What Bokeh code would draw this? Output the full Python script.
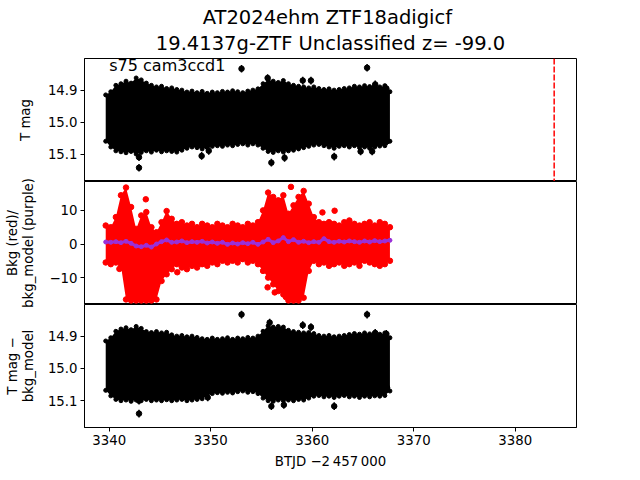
import math
from bokeh.plotting import figure
from bokeh.layouts import column, row
from bokeh.models import (Range1d, FixedTicker, PrintfTickFormatter, CustomJSTickFormatter,
                          Title, Label, Span)
from bokeh.core.properties import value
from bokeh.embed import file_html
from bokeh.resources import INLINE

TITLE_1 = "AT2024ehm  ZTF18adigicf"
TITLE_2 = "19.4137g-ZTF Unclassified z= -99.0"
SECTOR_TEXT = "s75 cam3ccd1"
X_LABEL = "BTJD \u22122\u2009457\u2009000"
Y_LABEL_LINES = [["T mag"], ["Bkg (red)/", "bkg_model (purple)"], ["T mag \u2212", "bkg_model"]]
X_TICKS = [3340, 3350, 3360, 3370, 3380]
MAG_TICKS = [14.9, 15.0, 15.1]
BKG_TICKS = [-10, 0, 10]
EVENT_TIME = 3383.83
MAG_ERR = 0.012

# time nodes along the light curve (BTJD - 2457000)
T_NODES = [3339.65, 3340.15, 3340.65, 3341.15, 3341.65, 3342.15, 3342.65, 3343.15, 3343.65, 3344.15,
           3344.65, 3345.15, 3345.65, 3346.15, 3346.65, 3347.15, 3347.65, 3348.15, 3348.65, 3349.15,
           3349.65, 3350.15, 3350.65, 3351.15, 3351.65, 3352.15, 3352.65, 3353.15, 3353.65, 3354.15,
           3354.65, 3355.15, 3355.65, 3356.15, 3356.65, 3357.15, 3357.65, 3358.15, 3358.65, 3359.15,
           3359.65, 3360.15, 3360.65, 3361.15, 3361.65, 3362.15, 3362.65, 3363.15, 3363.65, 3364.15,
           3364.65, 3365.15, 3365.65, 3366.15, 3366.65, 3367.15, 3367.65]

# panel 1: T mag, upper / lower extent of the points+errorbars
TMAG_UP = [14.915, 14.905, 14.885, 14.880, 14.872, 14.878, 14.862, 14.868, 14.878, 14.885,
           14.890, 14.888, 14.895, 14.893, 14.898, 14.900, 14.906, 14.903, 14.908, 14.904,
           14.910, 14.906, 14.908, 14.904, 14.906, 14.902, 14.905, 14.908, 14.903, 14.900,
           14.896, 14.880, 14.868, 14.872, 14.876, 14.870, 14.880, 14.885, 14.888, 14.890,
           14.893, 14.890, 14.895, 14.898, 14.896, 14.900, 14.898, 14.895, 14.893, 14.888,
           14.890, 14.886, 14.889, 14.885, 14.890, 14.886, 14.905]
TMAG_LO = [15.060, 15.078, 15.090, 15.093, 15.096, 15.092, 15.100, 15.095, 15.090, 15.094,
           15.088, 15.093, 15.090, 15.092, 15.094, 15.088, 15.082, 15.078, 15.080, 15.084,
           15.080, 15.076, 15.074, 15.076, 15.072, 15.074, 15.070, 15.068, 15.072, 15.068,
           15.072, 15.082, 15.092, 15.095, 15.090, 15.094, 15.090, 15.088, 15.084, 15.080,
           15.076, 15.072, 15.070, 15.074, 15.078, 15.082, 15.076, 15.074, 15.078, 15.074,
           15.080, 15.078, 15.082, 15.078, 15.075, 15.074, 15.060]
TMAG_OUT_T = [3353.03, 3365.40, 3355.60, 3359.06, 3359.87, 3366.20, 3367.30, 3342.93, 3342.93,
              3349.10, 3349.80, 3355.97, 3357.27, 3362.16, 3364.76, 3365.90, 3367.37]
TMAG_OUT_M = [14.833, 14.830, 14.862, 14.870, 14.870, 14.882, 14.895, 15.143, 15.110,
              15.106, 15.090, 15.127, 15.112, 15.108, 15.092, 15.092, 15.060]

# panel 2: background flux (red) and background model (purple)
BKG_UP = [5.5, 5.0, 8.0, 14.5, 16.8, 11.0, 4.5, 8.5, 9.5, 5.0,
          3.5, 6.5, 9.8, 7.5, 6.0, 6.5, 5.5, 6.0, 5.0, 6.0,
          5.5, 5.0, 6.0, 5.5, 5.0, 6.0, 5.5, 5.0, 6.0, 5.5,
          6.5, 10.0, 15.3, 14.0, 13.0, 14.5, 9.0, 11.5, 14.0, 15.8,
          12.0, 8.0, 6.5, 6.0, 6.5, 6.0, 5.5, 6.5, 7.0, 6.0,
          5.5, 6.0, 6.5, 5.5, 6.5, 6.0, 5.0]
BKG_LO = [-5.5, -6.0, -5.5, -6.5, -16.5, -16.8, -16.8, -16.8, -16.8, -16.8,
          -16.5, -11.0, -9.0, -7.5, -6.0, -7.0, -7.5, -6.5, -7.0, -6.0,
          -6.5, -5.5, -6.0, -5.0, -5.5, -5.0, -5.5, -4.5, -5.5, -5.0,
          -6.0, -8.0, -10.0, -12.0, -14.0, -15.0, -16.8, -16.8, -16.8, -16.0,
          -8.0, -5.0, -6.0, -5.5, -6.5, -6.0, -5.5, -6.5, -6.0, -5.5,
          -6.5, -5.0, -5.5, -6.0, -6.5, -6.0, -5.0]
BKG_MODEL = [0.6, 0.5, 0.7, 0.4, 0.8, 0.2, -0.6, -0.8, -0.4, -0.9,
             0.0, 0.7, 1.2, 0.5, 0.6, 0.9, 0.4, 0.7, 0.5, 0.8,
             0.3, 0.6, 0.2, 0.5, -0.1, 0.3, 0.0, 0.4, 0.1, 0.5,
             -0.1, 0.6, 1.4, 0.4, 0.9, 1.9, 0.7, 1.3, 0.5, 0.8,
             0.4, 0.7, 0.5, 1.6, 0.7, 0.5, 0.8, 0.6, 0.9, 0.7,
             0.5, 0.9, 0.6, 1.0, 0.7, 0.9, 1.1]
BKG_OUT_T = [3343.6, 3341.0, 3346.7, 3357.9, 3355.6, 3356.3, 3356.5, 3357.4, 3361.0, 3362.2]
BKG_OUT_V = [13.3, -7.4, -8.4, 17.0, -12.9, -14.4, -11.9, -15.8, 9.4, 9.9]

# panel 3: T mag - bkg_model
DIFF_UP = [14.915, 14.905, 14.885, 14.878, 14.874, 14.880, 14.870, 14.876, 14.886, 14.889,
           14.886, 14.890, 14.888, 14.896, 14.900, 14.898, 14.902, 14.900, 14.904, 14.908,
           14.910, 14.906, 14.910, 14.908, 14.905, 14.910, 14.906, 14.908, 14.904, 14.906,
           14.900, 14.885, 14.868, 14.872, 14.870, 14.872, 14.882, 14.886, 14.888, 14.890,
           14.889, 14.892, 14.898, 14.900, 14.898, 14.902, 14.900, 14.898, 14.895, 14.892,
           14.894, 14.890, 14.893, 14.890, 14.894, 14.890, 14.905]
DIFF_LO = [15.068, 15.085, 15.096, 15.100, 15.098, 15.102, 15.098, 15.100, 15.096, 15.100,
           15.098, 15.100, 15.097, 15.100, 15.098, 15.096, 15.100, 15.098, 15.096, 15.094,
           15.085, 15.078, 15.075, 15.077, 15.074, 15.076, 15.072, 15.070, 15.074, 15.072,
           15.078, 15.092, 15.100, 15.102, 15.098, 15.100, 15.098, 15.100, 15.096, 15.098,
           15.092, 15.086, 15.084, 15.088, 15.086, 15.090, 15.086, 15.084, 15.088, 15.086,
           15.090, 15.086, 15.088, 15.085, 15.086, 15.084, 15.070]
DIFF_OUT_T = [3353.03, 3365.40, 3355.80, 3359.06, 3359.87, 3366.20, 3367.30, 3342.93, 3342.93,
              3349.70, 3355.97, 3357.20, 3362.16, 3367.37]
DIFF_OUT_M = [14.833, 14.833, 14.858, 14.866, 14.872, 14.890, 14.893, 15.140, 15.100,
              15.090, 15.117, 15.113, 15.117, 15.060]

FONT = "DejaVu Sans"
TICK_PX = "13.3px"

# layout (pixels)
LAB_W = 44          # column holding the y-axis titles
LEFT = 36           # tick-label border of each panel
RIGHT = 48
FRAME_W = 496
FRAME_H = 123
TOP = 58
BOTTOM = 45
TOTAL_H = TOP + 3 * FRAME_H + BOTTOM

x_range = Range1d(3337.56, 3386.03)


def make_fig(y_range, with_x_axis, top_border, bottom_border):
    p = figure(width=LEFT + FRAME_W + RIGHT, height=top_border + FRAME_H + bottom_border,
               x_range=x_range, y_range=y_range,
               toolbar_location=None, output_backend="svg",
               x_axis_location="below" if with_x_axis else None,
               min_border_left=LEFT, min_border_right=RIGHT,
               min_border_top=top_border, min_border_bottom=bottom_border,
               background_fill_color="white", border_fill_color="white")
    p.grid.visible = False
    p.outline_line_color = "black"
    p.outline_line_width = 1
    for ax in p.axis:
        ax.axis_line_color = "black"
        ax.major_tick_line_color = "black"
        ax.major_tick_in = 0
        ax.major_tick_out = 4
        ax.minor_tick_line_color = None
        ax.major_label_text_font = FONT
        ax.major_label_text_font_size = TICK_PX
        ax.major_label_text_color = "black"
        ax.major_label_standoff = 3
        ax.axis_label_text_font = FONT
        ax.axis_label_text_font_size = TICK_PX
        ax.axis_label_text_font_style = "normal"
        ax.axis_label_text_color = "black"
    return p


def mag_panel(p, up, lo, out_t, out_m):
    p.varea(x=T_NODES, y1=lo, y2=up, fill_color="black")
    p.scatter(x=T_NODES, y=up, size=4, color="black")
    p.scatter(x=T_NODES, y=lo, size=4, color="black")
    p.segment(x0=out_t, y0=[v - MAG_ERR for v in out_m], x1=out_t, y1=[v + MAG_ERR for v in out_m],
              color="black", line_width=1.5)
    p.scatter(x=out_t, y=out_m, size=5.5, color="black")


# ---- panel 1
p1 = make_fig(Range1d(15.186, 14.801), False, TOP, 0)
p1.add_layout(Title(text=TITLE_2, align="center", text_font=FONT, text_font_size="19.5px",
                    text_font_style="normal", text_color="black", standoff=7), "above")
p1.add_layout(Title(text=TITLE_1, align="center", text_font=FONT, text_font_size="19.5px",
                    text_font_style="normal", text_color="black", standoff=-4), "above")
mag_panel(p1, TMAG_UP, TMAG_LO, TMAG_OUT_T, TMAG_OUT_M)
p1.add_layout(Span(location=EVENT_TIME, dimension="height", line_color="red",
                   line_dash="6 2", line_width=1.5))
p1.add_layout(Label(x=3340.0, y=14.823, text=SECTOR_TEXT, text_font=FONT, text_color="black",
                    text_font_size="16px", text_baseline="alphabetic"))
p1.yaxis.ticker = FixedTicker(ticks=MAG_TICKS)
p1.yaxis.formatter = PrintfTickFormatter(format="%.1f")

# ---- panel 2
p2 = make_fig(Range1d(-18.0, 18.6), False, 0, 0)
p2.varea(x=T_NODES, y1=BKG_LO, y2=BKG_UP, fill_color="red")
p2.scatter(x=T_NODES, y=BKG_UP, size=5.5, color="red")
p2.scatter(x=T_NODES, y=BKG_LO, size=5.5, color="red")
p2.scatter(x=BKG_OUT_T, y=BKG_OUT_V, size=5.5, color="red")
p2.line(x=T_NODES, y=BKG_MODEL, line_color="#9a30d8", line_width=3)
p2.scatter(x=T_NODES, y=BKG_MODEL, size=4, color="#9a30d8")
p2.yaxis.ticker = FixedTicker(ticks=BKG_TICKS)
p2.yaxis.formatter = CustomJSTickFormatter(code="return tick < 0 ? '\\u2212' + Math.abs(tick) : String(tick);")

# ---- panel 3
p3 = make_fig(Range1d(15.183, 14.802), True, 0, BOTTOM)
mag_panel(p3, DIFF_UP, DIFF_LO, DIFF_OUT_T, DIFF_OUT_M)
p3.yaxis.ticker = FixedTicker(ticks=MAG_TICKS)
p3.yaxis.formatter = PrintfTickFormatter(format="%.1f")
p3.xaxis.ticker = FixedTicker(ticks=X_TICKS)
p3.xaxis.axis_label = X_LABEL
p3.xaxis.axis_label_standoff = 6

# ---- y-axis titles, in their own strip so that long titles may overhang the panels
lab = figure(width=LAB_W, height=TOTAL_H, x_range=Range1d(0, LAB_W), y_range=Range1d(0, TOTAL_H),
             toolbar_location=None, output_backend="svg", x_axis_location=None, y_axis_location=None,
             min_border=0, outline_line_color=None)
lab.grid.visible = False
centers = [BOTTOM + 2.5 * FRAME_H, BOTTOM + 1.5 * FRAME_H, BOTTOM + 0.5 * FRAME_H]
line_x = {1: [25], 2: [12, 28]}
tx, ty, tt = [], [], []
for lines, cy in zip(Y_LABEL_LINES, centers):
    for txt, x in zip(lines, line_x[len(lines)]):
        tx.append(x)
        ty.append(cy)
        tt.append(txt)
lab.text(x=tx, y=ty, text=tt, angle=math.pi / 2, text_align="center", text_baseline="middle",
         text_font=value(FONT), text_font_size=TICK_PX, text_color="black")

layout = row(lab, column(p1, p2, p3, spacing=0), spacing=0)
open("out.html", "w").write(file_html(layout, INLINE))
